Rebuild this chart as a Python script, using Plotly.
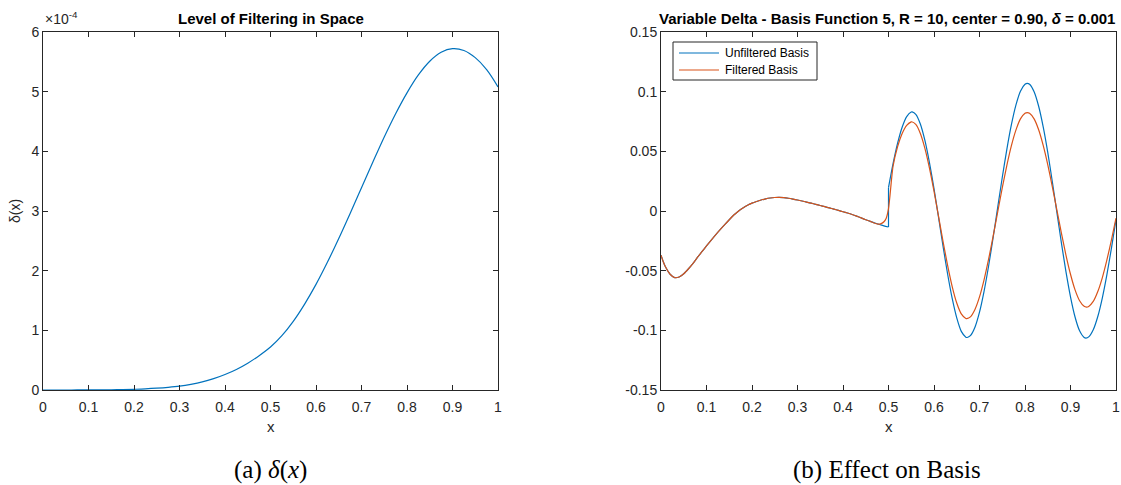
import numpy as np
import plotly.graph_objects as go

# ---------------- data ----------------
# (a) level of filtering delta(x), values in units of 1e-4
x_delta = [0.000, 0.025, 0.050, 0.075, 0.100, 0.125, 0.150, 0.175, 0.200, 0.225,
           0.250, 0.275, 0.300, 0.325, 0.350, 0.375, 0.400, 0.425, 0.450, 0.475,
           0.500, 0.525, 0.550, 0.575, 0.600, 0.625, 0.650, 0.675, 0.700, 0.725,
           0.750, 0.775, 0.800, 0.825, 0.850, 0.875, 0.900, 0.925, 0.950, 0.975, 1.000]
delta_e4 = [0.000, 0.000, 0.000, 0.0005, 0.001, 0.002, 0.004, 0.007, 0.012, 0.019,
            0.030, 0.045, 0.065, 0.095, 0.135, 0.190, 0.260, 0.345, 0.450, 0.575,
            0.720, 0.910, 1.150, 1.440, 1.770, 2.140, 2.540, 2.960, 3.390, 3.820,
            4.240, 4.630, 4.980, 5.280, 5.510, 5.660, 5.720, 5.690, 5.570, 5.370, 5.080]

# (b) unfiltered basis, part left of the jump at x = 0.5
x_unf_left = [0.00, 0.005, 0.01, 0.02, 0.03, 0.04, 0.05, 0.06, 0.07, 0.08, 0.09, 0.10,
              0.11, 0.12, 0.13, 0.14, 0.15, 0.16, 0.17, 0.18, 0.19, 0.20,
              0.21, 0.22, 0.23, 0.24, 0.25, 0.26, 0.27, 0.28, 0.29, 0.30,
              0.31, 0.32, 0.33, 0.34, 0.35, 0.36, 0.37, 0.38, 0.39, 0.40,
              0.41, 0.42, 0.43, 0.44, 0.45, 0.46, 0.47, 0.48, 0.49, 0.50]
y_unf_left = [-0.0370, -0.0425, -0.0470, -0.0530, -0.0558, -0.0553, -0.0526, -0.0486, -0.0441, -0.0389, -0.0341, -0.0293,
              -0.0246, -0.0200, -0.0156, -0.0114, -0.0073, -0.0034, -0.0002, 0.0025, 0.0048, 0.0066,
              0.0080, 0.0092, 0.0102, 0.0109, 0.0113, 0.0114, 0.0112, 0.0107, 0.0100, 0.0092,
              0.0084, 0.0075, 0.0066, 0.0056, 0.0046, 0.0036, 0.0026, 0.0016, 0.0005, -0.0006,
              -0.0017, -0.0029, -0.0043, -0.0058, -0.0073, -0.0087, -0.0101, -0.0113, -0.0124, -0.0134]
# (b) unfiltered basis, part right of the jump
x_unf_right = [0.50, 0.51, 0.52, 0.53, 0.54, 0.55, 0.552, 0.56, 0.57, 0.58, 0.59, 0.60,
               0.61, 0.62, 0.63, 0.64, 0.65, 0.66, 0.67, 0.673, 0.68, 0.69, 0.70,
               0.71, 0.72, 0.73, 0.74, 0.75, 0.76, 0.77, 0.78, 0.79, 0.80, 0.805,
               0.81, 0.82, 0.83, 0.84, 0.85, 0.86, 0.87, 0.88, 0.89, 0.90,
               0.91, 0.92, 0.93, 0.934, 0.94, 0.95, 0.96, 0.97, 0.98, 0.99, 1.00]
y_unf_right = [0.0196, 0.0396, 0.0568, 0.0702, 0.0791, 0.0829, 0.0830, 0.0810, 0.0729, 0.0591, 0.0406, 0.0187,
               -0.0054, -0.0298, -0.0530, -0.0733, -0.0896, -0.1009, -0.1057, -0.1060, -0.1045, -0.0974, -0.0848,
               -0.0673, -0.0461, -0.0222, 0.0030, 0.0281, 0.0515, 0.0721, 0.0887, 0.1004, 0.1062, 0.1070,
               0.1062, 0.0999, 0.0878, 0.0705, 0.0492, 0.0247, -0.0010, -0.0267, -0.0508, -0.0719,
               -0.0888, -0.1004, -0.1060, -0.1065, -0.1055, -0.0995, -0.0884, -0.0727, -0.0533, -0.0311, -0.0073]

# (b) filtered basis
x_fil = [0.00, 0.005, 0.01, 0.02, 0.03, 0.04, 0.05, 0.06, 0.07, 0.08, 0.09, 0.10,
         0.11, 0.12, 0.13, 0.14, 0.15, 0.16, 0.17, 0.18, 0.19, 0.20,
         0.21, 0.22, 0.23, 0.24, 0.25, 0.26, 0.27, 0.28, 0.29, 0.30,
         0.31, 0.32, 0.33, 0.34, 0.35, 0.36, 0.37, 0.38, 0.39, 0.40,
         0.41, 0.42, 0.43, 0.44, 0.45, 0.46, 0.47, 0.475, 0.48, 0.485, 0.49, 0.495,
         0.50, 0.503, 0.506, 0.51, 0.52, 0.53, 0.54, 0.55, 0.551, 0.56, 0.57, 0.58, 0.59, 0.60,
         0.61, 0.62, 0.63, 0.64, 0.65, 0.66, 0.67, 0.672, 0.68, 0.69, 0.70,
         0.71, 0.72, 0.73, 0.74, 0.75, 0.76, 0.77, 0.78, 0.79, 0.80, 0.805,
         0.81, 0.82, 0.83, 0.84, 0.85, 0.86, 0.87, 0.88, 0.89, 0.90,
         0.91, 0.92, 0.93, 0.935, 0.94, 0.95, 0.96, 0.97, 0.98, 0.99, 1.00]
y_fil = [-0.0370, -0.0425, -0.0470, -0.0530, -0.0558, -0.0553, -0.0526, -0.0486, -0.0441, -0.0389, -0.0341, -0.0293,
         -0.0246, -0.0200, -0.0156, -0.0114, -0.0073, -0.0034, -0.0002, 0.0025, 0.0048, 0.0066,
         0.0080, 0.0092, 0.0102, 0.0109, 0.0113, 0.0114, 0.0112, 0.0107, 0.0100, 0.0092,
         0.0084, 0.0075, 0.0066, 0.0056, 0.0046, 0.0036, 0.0026, 0.0016, 0.0005, -0.0006,
         -0.0017, -0.0029, -0.0043, -0.0058, -0.0073, -0.0087, -0.0103, -0.0109, -0.0110, -0.0104, -0.0090, -0.0060,
         0.0020, 0.0120, 0.0240, 0.0375, 0.0540, 0.0650, 0.0718, 0.0747, 0.0748, 0.0726, 0.0650, 0.0525, 0.0360, 0.0166,
         -0.0045, -0.0258, -0.0458, -0.0633, -0.0771, -0.0862, -0.0901, -0.0902, -0.0887, -0.0825, -0.0720,
         -0.0577, -0.0404, -0.0211, -0.0008, 0.0193, 0.0381, 0.0546, 0.0678, 0.0772, 0.0819, 0.0825,
         0.0819, 0.0772, 0.0681, 0.0550, 0.0389, 0.0205, 0.0010, -0.0185, -0.0369, -0.0530,
         -0.0661, -0.0752, -0.0799, -0.0805, -0.0800, -0.0758, -0.0675, -0.0558, -0.0410, -0.0241, -0.0060]

series_names = ["Unfiltered Basis", "Filtered Basis"]

# ticks
x_ticks = [0, 0.1, 0.2, 0.3, 0.4, 0.5, 0.6, 0.7, 0.8, 0.9, 1]
x_ticktext = ["0", "0.1", "0.2", "0.3", "0.4", "0.5", "0.6", "0.7", "0.8", "0.9", "1"]
delta_ticks_e4 = [0, 1, 2, 3, 4, 5, 6]
delta_ticktext = ["0", "1", "2", "3", "4", "5", "6"]
basis_ticks = [-0.15, -0.1, -0.05, 0, 0.05, 0.1, 0.15]
basis_ticktext = ["-0.15", "-0.1", "-0.05", "0", "0.05", "0.1", "0.15"]

# ---------------- figure ----------------
W, H = 1121, 485
AX = "#262626"
BLUE = "#0072BD"
ORANGE = "#D95319"
FONT = "Liberation Sans, Arial, Helvetica, sans-serif"
SERIF = "Liberation Serif, Times New Roman, serif"
LW = 1.2


def px(v):
    return v / W


def py(v):
    return 1 - v / H


fig = go.Figure()
fig.add_trace(go.Scatter(x=x_delta, y=np.array(delta_e4) * 1e-4, mode="lines",
                         line=dict(color=BLUE, width=LW, shape="spline", smoothing=1.0),
                         showlegend=False, xaxis="x", yaxis="y"))
# unfiltered: left smooth part, vertical jump, right smooth part
fig.add_trace(go.Scatter(x=x_unf_left, y=y_unf_left, mode="lines",
                         line=dict(color=BLUE, width=LW, shape="spline", smoothing=0.6),
                         showlegend=False, xaxis="x2", yaxis="y2"))
fig.add_trace(go.Scatter(x=[x_unf_left[-1], x_unf_right[0]], y=[y_unf_left[-1], y_unf_right[0]], mode="lines",
                         line=dict(color=BLUE, width=LW), showlegend=False, xaxis="x2", yaxis="y2"))
fig.add_trace(go.Scatter(x=x_unf_right, y=y_unf_right, mode="lines", name=series_names[0],
                         line=dict(color=BLUE, width=LW, shape="spline", smoothing=0.6),
                         showlegend=False, xaxis="x2", yaxis="y2"))
fig.add_trace(go.Scatter(x=x_fil, y=y_fil, mode="lines", name=series_names[1],
                         line=dict(color=ORANGE, width=LW, shape="spline", smoothing=0.6),
                         showlegend=False, xaxis="x2", yaxis="y2"))

ax_common = dict(showline=True, linecolor=AX, linewidth=1, mirror="ticks",
                 ticks="inside", ticklen=5, tickcolor=AX, tickwidth=1,
                 showgrid=False, zeroline=False, automargin=False,
                 tickfont=dict(family=FONT, size=14, color=AX))

ydom = [py(390), py(32)]
fig.update_layout(
    width=W, height=H, margin=dict(l=0, r=0, t=0, b=0, pad=0),
    paper_bgcolor="white", plot_bgcolor="white",
    xaxis=dict(domain=[px(43), px(498)], range=[0, 1], tickvals=x_ticks, ticktext=x_ticktext,
               anchor="y", ticklabelstandoff=4, **ax_common),
    yaxis=dict(domain=ydom, range=[0, 6e-4], tickvals=[v * 1e-4 for v in delta_ticks_e4],
               ticktext=delta_ticktext, anchor="x", **ax_common),
    xaxis2=dict(domain=[px(661), px(1116)], range=[0, 1], tickvals=x_ticks, ticktext=x_ticktext,
                anchor="y2", ticklabelstandoff=4, **ax_common),
    yaxis2=dict(domain=ydom, range=[-0.15, 0.15], tickvals=basis_ticks, ticktext=basis_ticktext,
                anchor="x2", **ax_common),
    showlegend=False,
)

# manual MATLAB-like legend box
shapes = [
    dict(type="rect", xref="paper", yref="paper", x0=px(673), x1=px(817), y0=py(80), y1=py(42),
         line=dict(color=AX, width=1), fillcolor="white", layer="above"),
    dict(type="line", xref="paper", yref="paper", x0=px(679), x1=px(719), y0=py(53), y1=py(53),
         line=dict(color=BLUE, width=LW), layer="above"),
    dict(type="line", xref="paper", yref="paper", x0=px(679), x1=px(719), y0=py(70), y1=py(70),
         line=dict(color=ORANGE, width=LW), layer="above"),
]
fig.update_layout(shapes=shapes)

ann = []
for name, yy in zip(series_names, [53, 70]):
    ann.append(dict(text=name, x=px(723), y=py(yy), xref="paper", yref="paper", showarrow=False,
                    font=dict(family=FONT, size=12, color="black"), xanchor="left", yanchor="middle"))
# titles
ann.append(dict(text="<b>Level of Filtering in Space</b>", x=px(270.5), y=py(19), xref="paper", yref="paper",
                showarrow=False, font=dict(family=FONT, size=15, color="black"), xanchor="center", yanchor="middle"))
ann.append(dict(text="<b>Variable Delta - Basis Function 5, R = 10, center = 0.90, <i>δ</i> = 0.001</b>",
                x=px(887), y=py(19), xref="paper", yref="paper",
                showarrow=False, font=dict(family=FONT, size=15, color="black"), xanchor="center", yanchor="middle"))
# exponent
ann.append(dict(text="×10<sup>-4</sup>", x=px(43), y=py(29), xref="paper", yref="paper",
                showarrow=False, font=dict(family=FONT, size=14, color=AX), xanchor="left", yanchor="bottom"))
# axis labels
ann.append(dict(text="x", x=px(270.5), y=py(426), xref="paper", yref="paper", showarrow=False,
                font=dict(family=FONT, size=15, color=AX), xanchor="center", yanchor="middle"))
ann.append(dict(text="x", x=px(888.5), y=py(426), xref="paper", yref="paper", showarrow=False,
                font=dict(family=FONT, size=15, color=AX), xanchor="center", yanchor="middle"))
ann.append(dict(text="δ(x)", x=px(15), y=py(211), xref="paper", yref="paper", showarrow=False, textangle=-90,
                font=dict(family=FONT, size=14, color=AX), xanchor="center", yanchor="middle"))
# captions
ann.append(dict(text="(a) <i>δ</i>(<i>x</i>)", x=px(270.5), y=py(470), xref="paper", yref="paper",
                showarrow=False, font=dict(family=SERIF, size=25, color="black"),
                xanchor="center", yanchor="middle"))
ann.append(dict(text="(b) Effect on Basis", x=px(887), y=py(470), xref="paper", yref="paper",
                showarrow=False, font=dict(family=SERIF, size=25, color="black"),
                xanchor="center", yanchor="middle"))
fig.update_layout(annotations=ann)

fig.write_html("out.html")
